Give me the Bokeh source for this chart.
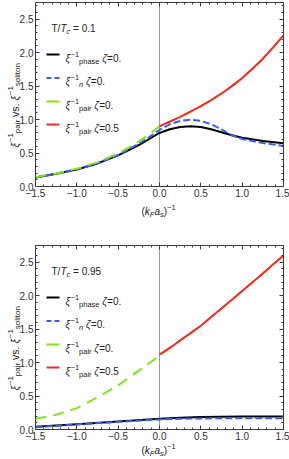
import math
from bokeh.plotting import figure
from bokeh.models import Range1d, FixedTicker, Label, LinearAxis
from bokeh.layouts import column
from bokeh.embed import file_html
from bokeh.resources import INLINE

# ---------------- data ----------------
x_ticks = [-1.5, -1.0, -0.5, 0.0, 0.5, 1.0, 1.5]
x_tick_labels = ["\u22121.5", "\u22121.0", "\u22120.5", "0.0", "0.5", "1.0", "1.5"]
y_ticks = [0.0, 0.5, 1.0, 1.5, 2.0, 2.5]
y_tick_labels = ["0.0", "0.5", "1.0", "1.5", "2.0", "2.5"]
x_minor = [-1.4, -1.3, -1.2, -1.1, -0.9, -0.8, -0.7, -0.6, -0.4, -0.3, -0.2, -0.1,
           0.1, 0.2, 0.3, 0.4, 0.6, 0.7, 0.8, 0.9, 1.1, 1.2, 1.3, 1.4]
y_minor = [0.1, 0.2, 0.3, 0.4, 0.6, 0.7, 0.8, 0.9, 1.1, 1.2, 1.3, 1.4, 1.6, 1.7, 1.8, 1.9,
           2.1, 2.2, 2.3, 2.4, 2.6, 2.7]
vline_x = [0.0]

# panel 1 : T/Tc = 0.1
t1_label = "0.1"
t1_x = [-1.5, -1.25, -1.0, -0.75, -0.5, -0.25, -0.125, 0.0, 0.125, 0.25, 0.375, 0.5,
        0.625, 0.75, 0.875, 1.0, 1.25, 1.5]
t1_phase = [0.135, 0.19, 0.255, 0.345, 0.465, 0.62, 0.71, 0.80, 0.855, 0.89, 0.90, 0.89,
            0.855, 0.81, 0.765, 0.73, 0.68, 0.645]
t1_n = [0.135, 0.19, 0.26, 0.35, 0.47, 0.64, 0.74, 0.845, 0.93, 0.98, 1.0, 0.98,
        0.93, 0.855, 0.765, 0.71, 0.65, 0.605]
t1_pair0_x = [-1.5, -1.25, -1.0, -0.75, -0.5, -0.25, -0.125, 0.0, 0.125, 0.25, 0.375, 0.5,
              0.625, 0.75, 0.875, 1.0, 1.125, 1.25, 1.375, 1.5]
t1_pair0 = [0.14, 0.195, 0.265, 0.36, 0.495, 0.67, 0.78, 0.90, 0.97, 1.04, 1.12, 1.20,
            1.29, 1.39, 1.50, 1.62, 1.76, 1.91, 2.08, 2.26]
t1_pair5_x = [0.0, 0.125, 0.25, 0.375, 0.5, 0.625, 0.75, 0.875, 1.0, 1.125, 1.25, 1.375, 1.5]
t1_pair5 = [0.90, 0.97, 1.04, 1.12, 1.20, 1.29, 1.39, 1.50, 1.62, 1.76, 1.91, 2.08, 2.26]

# panel 2 : T/Tc = 0.95
t2_label = "0.95"
t2_x = [-1.5, -1.0, -0.5, 0.0, 0.25, 0.5, 0.75, 1.0, 1.5]
t2_phase = [0.04, 0.08, 0.12, 0.16, 0.175, 0.185, 0.19, 0.195, 0.195]
t2_n = [0.035, 0.075, 0.115, 0.15, 0.16, 0.165, 0.168, 0.17, 0.17]
t2_pair0_x = [-1.5, -1.25, -1.0, -0.75, -0.5, -0.25, 0.0, 0.125, 0.25, 0.375, 0.5, 0.625,
              0.75, 0.875, 1.0, 1.125, 1.25, 1.375, 1.5]
t2_pair0 = [0.16, 0.22, 0.32, 0.48, 0.66, 0.88, 1.10, 1.22, 1.33, 1.44, 1.55, 1.68,
            1.81, 1.94, 2.07, 2.20, 2.33, 2.47, 2.60]
t2_pair5_x = [0.0, 0.125, 0.25, 0.375, 0.5, 0.625, 0.75, 0.875, 1.0, 1.125, 1.25, 1.375, 1.5]
t2_pair5 = [1.12, 1.22, 1.33, 1.44, 1.55, 1.68, 1.81, 1.94, 2.07, 2.20, 2.33, 2.47, 2.60]

# ---------------- style / layout ----------------
C_BLACK = "#000000"
C_BLUE = "#3a5ff0"
C_GREEN = "#80e61c"
C_RED = "#ff2626"
C_AXIS = "#3a3a3a"
FONT = "Liberation Sans"
X0, X1, Y0, Y1 = -1.5, 1.5, 0.0, 2.75
PW = 289                     # figure width (px)
BOX_L, BOX_R = 35, 283       # plot box, horizontal pixel edges
BOX_H = 184                  # plot box height (px)

W = {' ': 278, '(': 333, ')': 333, '.': 278, '/': 278, '=': 584, '\u2212': 584,
     'a': 556, 'c': 500, 'e': 556, 'h': 556, 'i': 222, 'k': 500, 'l': 222, 'n': 556,
     'o': 556, 'p': 556, 'r': 333, 's': 500, 't': 278, 'v': 500, 'F': 611, 'T': 611,
     '\u03be': 500, '\u03b6': 480}


def tw(s, size):
    return sum(W.get(c, 556) for c in s) * size / 1000.0


def put_pieces(p, parts, ax, ay, dx, dy, angle=0.0, main=10.0, small=7.5):
    """parts: (text, kind, italic) with kind n/sub/sup; offsets in pixels.
    Leading/trailing spaces are turned into cursor advances (SVG collapses them)."""
    cur = 0.0
    for text, kind, ital in parts:
        size = main if kind == "n" else small
        shift = {"n": 0.0, "sub": -3.0, "sup": 4.0}[kind]
        lead = len(text) - len(text.lstrip(" "))
        cur += tw(" " * lead, size)
        body = text.strip(" ")
        if body:
            if angle == 0.0:
                xo, yo = dx + cur, dy + shift
            else:
                xo, yo = dx - shift, dy + cur
            p.add_layout(Label(x=ax, y=ay, x_offset=xo, y_offset=yo, text=body, angle=angle,
                               text_font=FONT, text_font_size=f"{size}px",
                               text_font_style="italic" if ital else "normal",
                               text_color="#222222", text_baseline="alphabetic",
                               text_align="left"))
        cur += tw(text.lstrip(" "), size)


def style_axis(ax):
    ax.major_tick_in = 4
    ax.major_tick_out = 0
    ax.minor_tick_in = 2
    ax.minor_tick_out = 0
    ax.axis_line_color = C_AXIS
    ax.major_tick_line_color = C_AXIS
    ax.minor_tick_line_color = C_AXIS
    ax.major_label_text_font = FONT
    ax.major_label_text_font_size = "10px"
    ax.major_label_text_color = "#333333"
    ax.major_label_standoff = 2


def make_panel(tlabel, phase_x, phase, n_x, n, p0_x, p0, p5_x, p5, height, box_top, xlab_dy):
    kx = (X1 - X0) / (BOX_R - BOX_L)      # data units per pixel
    ky = (Y1 - Y0) / BOX_H
    box_bottom = box_top + BOX_H
    xr = Range1d(X0 - BOX_L * kx, X1 + (PW - BOX_R) * kx)
    yr = Range1d(Y0 - (height - box_bottom) * ky, Y1 + box_top * ky)
    p = figure(width=PW, height=height, x_range=xr, y_range=yr, min_border=0,
               output_backend="svg", toolbar_location=None, outline_line_color=None)
    p.grid.visible = False
    xt = FixedTicker(ticks=x_ticks, minor_ticks=x_minor)
    yt = FixedTicker(ticks=y_ticks, minor_ticks=y_minor)

    p.xaxis.ticker = xt
    p.yaxis.ticker = yt
    p.xaxis.major_label_overrides = dict(zip(x_ticks, x_tick_labels))
    p.yaxis.major_label_overrides = dict(zip(y_ticks, y_tick_labels))
    p.xaxis.fixed_location = Y0
    p.yaxis.fixed_location = X0
    p.xaxis.bounds = (X0, X1)
    p.yaxis.bounds = (Y0, Y1)
    for ax in p.xaxis + p.yaxis:
        style_axis(ax)
    for loc, tk, ticks, fixed, bnd in (("above", xt, x_ticks, Y1, (X0, X1)),
                                       ("right", yt, y_ticks, X1, (Y0, Y1))):
        ax = LinearAxis(ticker=tk, major_label_overrides={t: "" for t in ticks},
                        fixed_location=fixed, bounds=bnd)
        style_axis(ax)
        ax.major_label_standoff = 0
        p.add_layout(ax, loc)

    # vertical reference line at x = 0 inside the box
    p.segment(x0=vline_x, y0=[Y0], x1=vline_x, y1=[Y1], line_color="#9a9a9a", line_width=1)

    p.line(phase_x, phase, line_color=C_BLACK, line_width=2)
    p.line(n_x, n, line_color=C_BLUE, line_width=2, line_dash="7 3")
    p.line(p0_x, p0, line_color=C_GREEN, line_width=2, line_dash="11 7")
    p.line(p5_x, p5, line_color=C_RED, line_width=2)

    # T/Tc label
    put_pieces(p, [("T/", "n", False), ("T", "n", True), ("c", "sub", True),
                   (" = " + tlabel, "n", False)], X0, Y1, 16, -26)

    # legend
    rows = [
        (C_BLACK, None, [("\u03be", "n", True), ("\u22121", "sup", False), ("phase", "sub", False),
                         (" ", "n", False), ("\u03b6", "n", True), ("=0.", "n", False)]),
        (C_BLUE, "5 3", [("\u03be", "n", True), ("\u22121", "sup", False), ("n", "sub", True),
                         (" ", "n", False), ("\u03b6", "n", True), ("=0.", "n", False)]),
        (C_GREEN, None, [("\u03be", "n", True), ("\u22121", "sup", False), ("pair", "sub", False),
                         (" ", "n", False), ("\u03b6", "n", True), ("=0.", "n", False)]),
        (C_RED, None, [("\u03be", "n", True), ("\u22121", "sup", False), ("pair", "sub", False),
                       (" ", "n", False), ("\u03b6", "n", True), ("=0.5", "n", False)]),
    ]
    row_y = [52, 75.5, 99, 122]
    for (col, dash, parts), ry in zip(rows, row_y):
        yy = Y1 - ry * ky
        kw = dict(line_color=col, line_width=2)
        if dash:
            kw["line_dash"] = dash
        p.line([X0 + 11 * kx, X0 + 24 * kx], [yy, yy], **kw)
        put_pieces(p, parts, X0, Y1, 30, -(ry + 3.5))

    # y axis label (rotated), drawn left of the box
    put_pieces(p, [("\u03be", "n", True), ("\u22121", "sup", False), ("pair", "sub", False),
                   (" vs. ", "n", False), ("\u03be", "n", True), ("\u22121", "sup", False),
                   ("soliton", "sub", False)], X0, Y0, -21, 39, angle=math.pi / 2,
               main=10.5, small=8.0)
    # x axis label
    put_pieces(p, [("(", "n", False), ("k", "n", True), ("F", "sub", True), ("a", "n", True),
                   ("s", "sub", True), (")", "n", False), ("\u22121", "sup", False)],
               0.0, Y0, -18, xlab_dy)
    return p


p1 = make_panel(t1_label, t1_x, t1_phase, t1_x, t1_n, t1_pair0_x, t1_pair0, t1_pair5_x,
                t1_pair5, 229, 2, -25)
p2 = make_panel(t2_label, t2_x, t2_phase, t2_x, t2_n, t2_pair0_x, t2_pair0, t2_pair5_x,
                t2_pair5, 230, 16, -21)

layout = column(p1, p2)
open("out.html", "w").write(file_html(layout, INLINE))
